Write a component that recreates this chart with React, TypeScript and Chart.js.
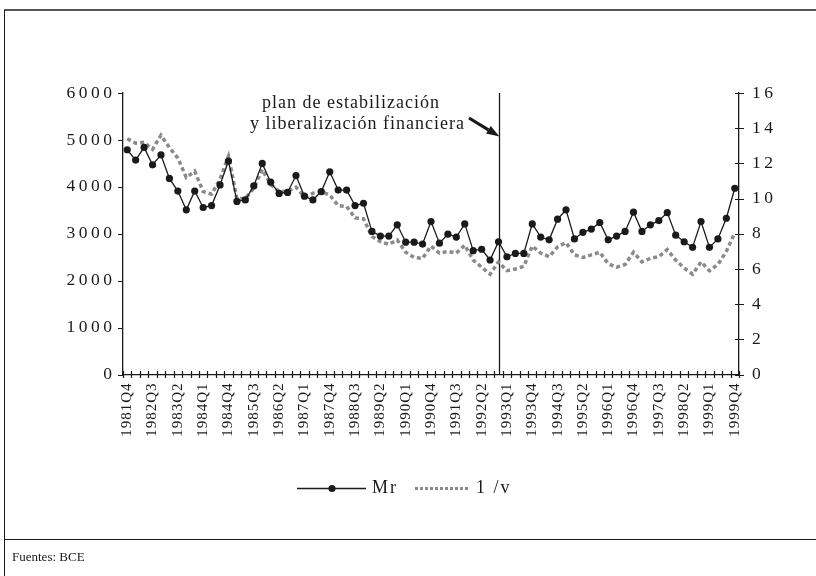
import { useEffect, useRef } from 'react';
import { Chart, registerables } from 'chart.js';

Chart.register(...registerables);

const quarters = [
  '1981Q4',
  '1982Q1', '1982Q2', '1982Q3', '1982Q4',
  '1983Q1', '1983Q2', '1983Q3', '1983Q4',
  '1984Q1', '1984Q2', '1984Q3', '1984Q4',
  '1985Q1', '1985Q2', '1985Q3', '1985Q4',
  '1986Q1', '1986Q2', '1986Q3', '1986Q4',
  '1987Q1', '1987Q2', '1987Q3', '1987Q4',
  '1988Q1', '1988Q2', '1988Q3', '1988Q4',
  '1989Q1', '1989Q2', '1989Q3', '1989Q4',
  '1990Q1', '1990Q2', '1990Q3', '1990Q4',
  '1991Q1', '1991Q2', '1991Q3', '1991Q4',
  '1992Q1', '1992Q2', '1992Q3', '1992Q4',
  '1993Q1', '1993Q2', '1993Q3', '1993Q4',
  '1994Q1', '1994Q2', '1994Q3', '1994Q4',
  '1995Q1', '1995Q2', '1995Q3', '1995Q4',
  '1996Q1', '1996Q2', '1996Q3', '1996Q4',
  '1997Q1', '1997Q2', '1997Q3', '1997Q4',
  '1998Q1', '1998Q2', '1998Q3', '1998Q4',
  '1999Q1', '1999Q2', '1999Q3', '1999Q4',
];

const mr = [
  4790,
  4570, 4840, 4470, 4680,
  4180, 3910, 3510, 3910,
  3560, 3600, 4040, 4550,
  3690, 3720, 4020, 4500,
  4100, 3860, 3880, 4240,
  3800, 3720, 3900, 4320,
  3930, 3930, 3600, 3650,
  3050, 2950, 2950, 3190,
  2820, 2820, 2780, 3260,
  2800, 2990, 2930, 3210,
  2640, 2670, 2440, 2830,
  2510, 2580, 2580, 3210,
  2930, 2870, 3310, 3510,
  2890, 3030, 3100, 3240,
  2870, 2950, 3050, 3460,
  3050, 3190, 3280, 3450,
  2970, 2830, 2710, 3260,
  2710, 2890, 3330, 3970,
];

const invV = [
  13.4,
  13.15, 13.2, 12.8, 13.6,
  12.9, 12.3, 11.2, 11.55,
  10.4, 10.25, 11.1, 12.4,
  10.0, 10.0, 10.6, 11.65,
  10.8, 10.4, 10.4, 10.65,
  10.1, 10.3, 10.4, 10.2,
  9.6, 9.55, 8.9, 8.85,
  7.85, 7.55, 7.4, 7.65,
  6.95, 6.65, 6.6, 7.3,
  6.9, 7.0, 6.9, 7.35,
  6.5, 6.1, 5.7, 6.4,
  5.9, 6.0, 6.15, 7.3,
  6.9, 6.7, 7.25, 7.5,
  6.8, 6.65, 6.8, 6.95,
  6.3, 6.1, 6.25, 6.95,
  6.4, 6.6, 6.7, 7.1,
  6.5, 6.05, 5.7, 6.4,
  5.9, 6.25, 7.0, 8.05,
];

const seriesNames = ['Mr', '1 /v'];
const reformQuarter = '1992Q4';
const annotationLines = ['plan de estabilización', 'y liberalización financiera'];
const sourceText = 'Fuentes: BCE';

const FONT = '"Liberation Serif", "Times New Roman", serif';
const INK = '#1a1a1a';
const GREY = '#8a8a8a';

const decor = {
  id: 'decor',
  beforeDraw(chart: any) {
    const ctx = chart.ctx as CanvasRenderingContext2D;
    (ctx as any).letterSpacing = '1px';
    ctx.save();
    ctx.strokeStyle = '#555';
    ctx.lineWidth = 2;
    ctx.beginPath();
    ctx.moveTo(4, 10);
    ctx.lineTo(816, 10);
    ctx.stroke();
    ctx.strokeStyle = INK;
    ctx.lineWidth = 1;
    ctx.beginPath();
    ctx.moveTo(4.5, 10);
    ctx.lineTo(4.5, 576);
    ctx.moveTo(4.5, 539.5);
    ctx.lineTo(816, 539.5);
    ctx.stroke();
    ctx.restore();
  },
  beforeDatasetsDraw(chart: any) {
    const ctx = chart.ctx as CanvasRenderingContext2D;
    const x = chart.scales.x;
    const area = chart.chartArea;
    const px = Math.round(x.getPixelForValue(quarters.indexOf(reformQuarter))) + 0.5;
    ctx.save();
    ctx.strokeStyle = INK;
    ctx.lineWidth = 1.3;
    ctx.beginPath();
    ctx.moveTo(px, area.top);
    ctx.lineTo(px, area.bottom);
    ctx.stroke();
    ctx.restore();
  },
  afterDraw(chart: any) {
    const ctx = chart.ctx as CanvasRenderingContext2D;
    const x = chart.scales.x;
    const y = chart.scales.y;
    const y1 = chart.scales.y1;
    const area = chart.chartArea;
    ctx.save();
    ctx.strokeStyle = INK;
    ctx.lineWidth = 1.2;
    const n = quarters.length;
    const w = (x.right - x.left) / n;
    ctx.beginPath();
    for (let i = 0; i <= n; i++) {
      const px = Math.round(x.left + i * w) + 0.5;
      ctx.moveTo(px, area.bottom - 3.5);
      ctx.lineTo(px, area.bottom + 3.5);
    }
    for (const t of y.ticks) {
      const py = Math.round(y.getPixelForValue(t.value)) + 0.5;
      ctx.moveTo(area.left - 5, py);
      ctx.lineTo(area.left, py);
    }
    for (const t of y1.ticks) {
      const py = Math.round(y1.getPixelForValue(t.value)) + 0.5;
      ctx.moveTo(area.right - 4, py);
      ctx.lineTo(area.right + 5, py);
    }
    ctx.stroke();

    // y labels
    ctx.fillStyle = INK;
    ctx.font = `17.5px ${FONT}`;
    (ctx as any).letterSpacing = '3.5px';
    ctx.textBaseline = 'middle';
    ctx.textAlign = 'right';
    for (const t of y.ticks) {
      ctx.fillText(String(t.value), area.left - 7.5, y.getPixelForValue(t.value));
    }
    ctx.textAlign = 'left';
    for (const t of y1.ticks) {
      ctx.fillText(String(t.value), area.right + 13, y1.getPixelForValue(t.value));
    }

    // annotation
    ctx.font = `18px ${FONT}`;
    (ctx as any).letterSpacing = '1px';
    ctx.textBaseline = 'alphabetic';
    ctx.fillText(annotationLines[0], 262, 108);
    ctx.fillText(annotationLines[1], 250, 129);

    // arrow
    const tipX = x.getPixelForValue(quarters.indexOf(reformQuarter)) + 1;
    const tipY = 136.5;
    const sx = 469, sy = 118;
    const ang = Math.atan2(tipY - sy, tipX - sx);
    const hl = 13, hw = 4.5;
    const bx = tipX - hl * Math.cos(ang);
    const by = tipY - hl * Math.sin(ang);
    ctx.lineWidth = 3.2;
    ctx.beginPath();
    ctx.moveTo(sx, sy);
    ctx.lineTo(bx, by);
    ctx.stroke();
    ctx.beginPath();
    ctx.moveTo(tipX, tipY);
    ctx.lineTo(bx + hw * Math.sin(ang), by - hw * Math.cos(ang));
    ctx.lineTo(bx - hw * Math.sin(ang), by + hw * Math.cos(ang));
    ctx.closePath();
    ctx.fill();

    // legend
    const ly = 488.5;
    ctx.lineWidth = 1.3;
    ctx.beginPath();
    ctx.moveTo(297, ly);
    ctx.lineTo(366, ly);
    ctx.stroke();
    ctx.beginPath();
    ctx.arc(332, ly, 3.6, 0, Math.PI * 2);
    ctx.fill();
    ctx.strokeStyle = GREY;
    ctx.lineWidth = 3;
    ctx.setLineDash([3, 2]);
    ctx.beginPath();
    ctx.moveTo(415, ly);
    ctx.lineTo(470, ly);
    ctx.stroke();
    ctx.setLineDash([]);
    ctx.font = `18px ${FONT}`;
    (ctx as any).letterSpacing = '2px';
    ctx.textBaseline = 'middle';
    ctx.fillText(seriesNames[0], 372, ly);
    ctx.fillText(seriesNames[1], 476, ly);

    // source
    ctx.font = `13px ${FONT}`;
    (ctx as any).letterSpacing = '0px';
    ctx.textBaseline = 'alphabetic';
    ctx.fillText(sourceText, 12, 561);
    ctx.restore();
  },
};

export default function App() {
  const ref = useRef<HTMLCanvasElement>(null);
  useEffect(() => {
    const chart = new Chart(ref.current as HTMLCanvasElement, {
      type: 'line',
      data: {
        labels: quarters,
        datasets: [
          {
            label: seriesNames[0],
            data: mr,
            yAxisID: 'y',
            borderColor: INK,
            backgroundColor: INK,
            borderWidth: 1.3,
            pointRadius: 3.6,
            pointBackgroundColor: INK,
            pointBorderWidth: 0,
            tension: 0,
            order: 0,
          },
          {
            label: seriesNames[1],
            data: invV,
            yAxisID: 'y1',
            borderColor: GREY,
            borderWidth: 3.5,
            borderDash: [4, 3],
            borderCapStyle: 'butt',
            pointRadius: 0,
            tension: 0,
            order: 1,
          },
        ],
      },
      options: {
        animation: false,
        responsive: false,
        devicePixelRatio: 1,
        layout: { padding: { top: 93, bottom: 121.5, left: 0, right: 0 } },
        plugins: { legend: { display: false }, tooltip: { enabled: false } },
        scales: {
          x: {
            type: 'category',
            offset: true,
            grid: { display: false, drawTicks: false, offset: true },
            border: { display: true, color: INK, width: 1.3 },
            ticks: {
              autoSkip: false,
              maxRotation: 90,
              minRotation: 90,
              padding: 8,
              color: INK,
              font: { family: FONT, size: 15 },
              callback: (_v: any, i: number) => (i % 3 === 0 ? quarters[i] : ''),
            },
            afterFit: (s: any) => {
              s.height = 80;
            },
          },
          y: {
            position: 'left',
            min: 0,
            max: 6000,
            ticks: { stepSize: 1000, display: false },
            grid: { display: false, drawTicks: false },
            border: { display: true, color: INK, width: 1.3 },
            afterFit: (s: any) => {
              s.width = 123;
            },
          },
          y1: {
            position: 'right',
            min: 0,
            max: 16,
            ticks: { stepSize: 2, display: false },
            grid: { display: false, drawTicks: false },
            border: { display: true, color: INK, width: 1.3 },
            afterFit: (s: any) => {
              s.width = 77;
            },
          },
        },
      },
      plugins: [decor],
    } as any);
    return () => chart.destroy();
  }, []);
  return (
    <div style={{ position: 'absolute', left: 0, top: 0, width: 816, height: 576, background: '#fff' }}>
      <canvas ref={ref} width={816} height={576} style={{ display: 'block' }} />
    </div>
  );
}
